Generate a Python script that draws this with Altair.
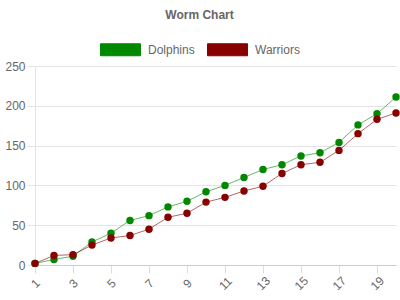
import altair as alt
import pandas as pd

rounds = list(range(1, 21))
dolphins = [2, 7, 11, 29, 40, 56, 62, 73, 80, 92, 100, 110, 120, 126, 137, 141, 154, 176, 190, 211]
warriors = [2, 12, 13, 25, 34, 37, 45, 60, 65, 79, 85, 93, 99, 115, 126, 129, 144, 165, 183, 191]
teams = ["Dolphins", "Warriors"]
colors = ["#008800", "#880000"]
x_ticks = [1, 3, 5, 7, 9, 11, 13, 15, 17, 19]
y_ticks = [0, 50, 100, 150, 200, 250]

df = pd.DataFrame({
    "round": rounds * 2,
    "score": dolphins + warriors,
    "team": [teams[0]] * len(rounds) + [teams[1]] * len(rounds),
})

FONT = "Liberation Sans"
GREY = "#666666"

color = alt.Color(
    "team:N",
    scale=alt.Scale(domain=teams, range=colors),
    legend=alt.Legend(
        title=None,
        orient="none",
        direction="horizontal",
        legendX=65,
        legendY=-37,
        symbolType="M-1,-0.3L1,-0.3L1,0.3L-1,0.3Z",
        symbolSize=1600,
        symbolStrokeWidth=1,
        symbolOpacity=1,
        labelFont=FONT,
        labelFontSize=12,
        labelColor=GREY,
        labelOffset=7,
        columnPadding=10,
        padding=0,
    ),
)

x = alt.X(
    "round:Q",
    scale=alt.Scale(domain=[1, 20], nice=False, zero=False),
    axis=alt.Axis(
        title=None,
        values=x_ticks,
        grid=False,
        tickSize=8,
        tickColor="#dddddd",
        domainColor="#cccccc",
        labelAngle=-45,
        labelAlign="center",
        labelBaseline="middle",
        labelPadding=10,
        labelFont=FONT,
        labelFontSize=12,
        labelColor=GREY,
    ),
)

y = alt.Y(
    "score:Q",
    scale=alt.Scale(domain=[0, 250], nice=False),
    axis=alt.Axis(
        title=None,
        values=y_ticks,
        grid=True,
        gridColor="#e4e4e4",
        tickSize=8,
        tickColor="#e4e4e4",
        domainColor="#e4e4e4",
        labelPadding=2,
        labelFont=FONT,
        labelFontSize=12,
        labelColor=GREY,
    ),
)

base = alt.Chart(df)
lines = base.mark_line(strokeWidth=1, opacity=0.6).encode(x=x, y=y, color=color)
points = base.mark_point(filled=True, size=55, opacity=1, strokeWidth=1, strokeOpacity=0.5).encode(
    x=x, y=y, color=color
)

chart = (
    alt.layer(lines, points)
    .properties(
        width=361,
        height=199,
        autosize=alt.AutoSizeParams(type="none"),
        padding={"left": 35, "top": 66, "right": 4, "bottom": 35},
        title=alt.TitleParams(
            "Worm Chart",
            font=FONT,
            fontSize=12,
            fontWeight="bold",
            color=GREY,
            anchor="middle",
            dx=-16,
            offset=7,
        ),
    )
    .configure_view(stroke=None)
)

chart.save("out.html", embed_options={"renderer": "svg", "actions": False})
